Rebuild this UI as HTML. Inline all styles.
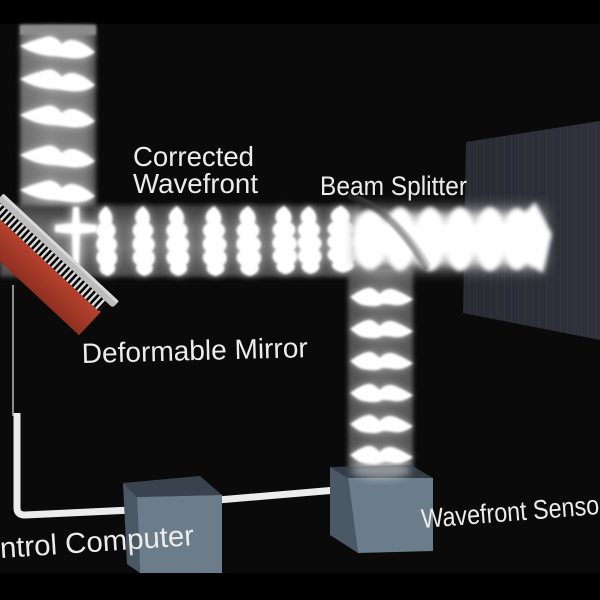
<!DOCTYPE html>
<html><head><meta charset="utf-8"><style>
html,body{margin:0;padding:0;background:#000;width:600px;height:600px;overflow:hidden}
svg{display:block}
text{font-family:"Liberation Sans",Arial,sans-serif;fill:#ececec}
</style></head><body>
<svg width="600" height="600" viewBox="0 0 600 600" xmlns="http://www.w3.org/2000/svg" xmlns:xlink="http://www.w3.org/1999/xlink">
<defs>
<filter id="b1" x="-50%" y="-50%" width="200%" height="200%"><feGaussianBlur stdDeviation="1.1"/></filter>
<filter id="b2" x="-50%" y="-50%" width="200%" height="200%"><feGaussianBlur stdDeviation="2"/></filter>
<filter id="b4" x="-50%" y="-50%" width="200%" height="200%"><feGaussianBlur stdDeviation="4"/></filter>
<filter id="b7" x="-50%" y="-50%" width="200%" height="200%"><feGaussianBlur stdDeviation="7"/></filter>
<linearGradient id="gTop" x1="0" y1="0" x2="1" y2="0">
<stop offset="0" stop-color="#6c6c6c"/><stop offset="0.4" stop-color="#888"/><stop offset="0.85" stop-color="#7c7c7c"/><stop offset="1" stop-color="#505050"/></linearGradient>
<linearGradient id="gH" x1="0" y1="0" x2="0" y2="1">
<stop offset="0" stop-color="#3c3c3c"/><stop offset="0.3" stop-color="#686868"/><stop offset="0.6" stop-color="#727272"/><stop offset="1" stop-color="#4a4a4a"/></linearGradient>
<linearGradient id="gD" x1="0" y1="0" x2="1" y2="0">
<stop offset="0" stop-color="#505050"/><stop offset="0.5" stop-color="#6c6c6c"/><stop offset="1" stop-color="#555"/></linearGradient>
<linearGradient id="gRed" x1="0" y1="0" x2="0" y2="1">
<stop offset="0" stop-color="#b8432f"/><stop offset="1" stop-color="#8f2f20"/></linearGradient>
<linearGradient id="gPanel" x1="0" y1="0" x2="1" y2="0">
<stop offset="0" stop-color="#2a2b33"/><stop offset="1" stop-color="#30313a"/></linearGradient>
<pattern id="comb" width="5" height="12" patternUnits="userSpaceOnUse">
<rect width="5" height="12" fill="#dcdcdc"/><rect x="2.4" y="0" width="2.6" height="12" fill="#050505"/></pattern>
<pattern id="stripes" width="7" height="10" patternUnits="userSpaceOnUse">
<rect x="0" width="1" height="10" fill="#ffffff" opacity="0.03"/></pattern>
<path id="wh" d="M20,-3 C28,-7 38,-10 46,-12 C54,-14 58,-9 62,-5 C66,-9 72,-10 77,-8 C84,-6 90,-1 95,3 C88,9 78,10 70,9 C62,8 56,7 50,7 C40,6 30,3 20,-3 Z"/>
<path id="wv" d="M0,-35 C4,-30 6,-24 4,-18 C8,-14 8,-8 5,-4 C9,0 9,6 6,10 C9,14 9,20 6,24 C8,28 6,33 1,35 C-4,33 -6,28 -4,24 C-8,20 -8,14 -5,10 C-8,6 -8,0 -5,-4 C-8,-8 -8,-14 -4,-18 C-7,-24 -5,-30 0,-35 Z"/>
<path id="wd" d="M350,-1 C356,-5 362,-9 368,-10 C373,-11 376,-7 380,-4 C384,-9 390,-10 395,-8 C401,-6 407,-2 413,1 C407,6 400,8 394,7 C388,6 384,5 380,7 C375,9 369,8 363,7 C358,6 354,2 350,-1 Z"/>
<g id="wvset">
<use xlink:href="#wv" href="#wv" transform="translate(106,241) scale(1.35,1)"/>
<use xlink:href="#wv" href="#wv" transform="translate(143,241) scale(1.45,1)"/>
<use xlink:href="#wv" href="#wv" transform="translate(177,241) scale(1.5,1)"/>
<use xlink:href="#wv" href="#wv" transform="translate(214,241) scale(1.55,1)"/>
<use xlink:href="#wv" href="#wv" transform="translate(248,241) scale(1.6,1)"/>
<use xlink:href="#wv" href="#wv" transform="translate(284,240) scale(1.6,0.98)"/>
<use xlink:href="#wv" href="#wv" transform="translate(309,240) scale(1.55,0.97)"/>
<use xlink:href="#wv" href="#wv" transform="translate(341,239) scale(1.9,0.96)"/>
</g>
<g id="whset">
<use xlink:href="#wh" href="#wh" transform="translate(0,49)"/>
<use xlink:href="#wh" href="#wh" transform="translate(0,82)"/>
<use xlink:href="#wh" href="#wh" transform="translate(0,118)"/>
<use xlink:href="#wh" href="#wh" transform="translate(0,158)"/>
<use xlink:href="#wh" href="#wh" transform="translate(0,193)"/>
</g>
<g id="wdset">
<use xlink:href="#wd" href="#wd" transform="translate(0,298)"/>
<use xlink:href="#wd" href="#wd" transform="translate(0,330)"/>
<use xlink:href="#wd" href="#wd" transform="translate(0,362)"/>
<use xlink:href="#wd" href="#wd" transform="translate(0,394)"/>
<use xlink:href="#wd" href="#wd" transform="translate(0,425)"/>
<use xlink:href="#wd" href="#wd" transform="translate(0,456)"/>
</g>
</defs>

<rect width="600" height="600" fill="#000"/>
<rect x="0" y="24" width="600" height="549" fill="#0a0a0a"/>

<!-- right screen panel -->
<polygon points="466,142 600,121 600,340 463,313" fill="url(#gPanel)"/>
<polygon points="466,142 600,121 600,340 463,313" fill="url(#stripes)"/>

<!-- beam backgrounds -->
<g filter="url(#b2)">
<rect x="20" y="25" width="76" height="185" fill="url(#gTop)"/>
<rect x="0" y="205" width="360" height="72" fill="url(#gH)"/>
<rect x="348" y="268" width="65" height="208" fill="url(#gD)"/>
</g>
<rect x="20" y="25" width="76" height="10" fill="#8a8a8a" filter="url(#b1)"/>

<!-- wavefronts -->
<g fill="#fff">
<g filter="url(#b4)" opacity="0.55">
<use xlink:href="#whset" href="#whset"/>
<use xlink:href="#wvset" href="#wvset"/>
<use xlink:href="#wdset" href="#wdset"/>
</g>
<g filter="url(#b1)">
<use xlink:href="#whset" href="#whset"/>
<use xlink:href="#wvset" href="#wvset"/>
<use xlink:href="#wdset" href="#wdset"/>
</g>
</g>

<!-- cross highlight at mirror -->
<g fill="#fff">
<path filter="url(#b4)" opacity="0.6" d="M71,205 L81,205 L82,221 L99,223 L99,234 L82,236 L81,270 L71,270 L70,236 L53,234 L53,223 L70,221 Z"/>
<path filter="url(#b1)" d="M73,207 L79,207 L80,223 L97,225 L97,232 L80,234 L79,268 L73,268 L72,234 L55,232 L55,225 L72,223 Z"/>
</g>

<!-- bright right beam section -->
<rect x="352" y="214" width="185" height="50" fill="#b8b8b8" filter="url(#b4)"/>
<g fill="#fff">
<g filter="url(#b7)" opacity="0.5">
<rect x="355" y="208" width="190" height="62"/>
</g>
<g filter="url(#b2)">
<ellipse cx="370" cy="240" rx="17" ry="30"/>
<ellipse cx="400" cy="239" rx="15" ry="32"/>
<ellipse cx="430" cy="239" rx="15" ry="32"/>
<ellipse cx="460" cy="239" rx="15" ry="32"/>
<ellipse cx="490" cy="239" rx="15" ry="32"/>
<ellipse cx="517" cy="239" rx="14" ry="31"/>
<rect x="372" y="224" width="156" height="30"/>
<polygon points="524,214 535,202 552,234 543,273 524,262"/>
</g>
</g>

<!-- beam splitter plate -->
<path d="M348,196 Q392,208 427,270" stroke="#3a3a3a" stroke-width="6" fill="none" opacity="0.5" filter="url(#b1)"/>
<path d="M356,196 Q398,212 430,266" stroke="#666" stroke-width="2" fill="none" opacity="0.4" filter="url(#b1)"/>

<!-- pole and cables -->
<line x1="13" y1="285" x2="13" y2="416" stroke="#8c8c8c" stroke-width="2"/>
<path d="M17,413 L17,508 Q17,515 25,515 L132,510" stroke="#ececec" stroke-width="7" fill="none" stroke-linejoin="round"/>
<path d="M218,500 L348,489" stroke="#ececec" stroke-width="7" fill="none"/>

<!-- deformable mirror -->
<g transform="translate(2,195) rotate(43)">
<rect x="-60" y="18" width="212" height="32" fill="url(#gRed)"/>
<rect x="4" y="7" width="146" height="12" fill="url(#comb)"/>
<rect x="0" y="-2" width="158" height="9" rx="3" fill="#bcbcbc"/>
<rect x="0" y="-2" width="158" height="3" rx="1.5" fill="#d8d8d8"/>
</g>

<!-- control computer box -->
<polygon points="123,483 200,476 222,495 137,497" fill="#38434d"/>
<polygon points="123,483 137,497 140,573 127,564" fill="#4a5765"/>
<polygon points="137,497 222,495 222,573 140,573" fill="#6b7c8b"/>

<!-- wavefront sensor box -->
<polygon points="330,467 411,465 433,478 348,478" fill="#333c45"/>
<polygon points="330,467 348,478 358,553 330,535" fill="#4b5866"/>
<polygon points="348,478 433,478 433,551 358,553" fill="#6b7c8b"/>
<ellipse cx="381" cy="470" rx="30" ry="9" fill="#fff" opacity="0.45" filter="url(#b4)"/>

<!-- labels -->
<text x="133" y="166" font-size="28" textLength="121" lengthAdjust="spacingAndGlyphs">Corrected</text>
<text x="133" y="193" font-size="28" textLength="125" lengthAdjust="spacingAndGlyphs">Wavefront</text>
<text x="320" y="195" font-size="27" textLength="147" lengthAdjust="spacingAndGlyphs">Beam Splitter</text>
<text x="82" y="363" font-size="28" textLength="226" lengthAdjust="spacingAndGlyphs" transform="rotate(-1.5 82 363)">Deformable Mirror</text>
<text x="-37" y="558" font-size="29" textLength="232" lengthAdjust="spacingAndGlyphs" transform="rotate(-3.8 0 558)">Control Computer</text>
<text x="422" y="528" font-size="27" textLength="186" lengthAdjust="spacingAndGlyphs" transform="rotate(-4.5 422 528)">Wavefront Sensor</text>

<!-- letterbox bottom -->
<rect x="0" y="573" width="600" height="27" fill="#000"/>
</svg>
</body></html>
